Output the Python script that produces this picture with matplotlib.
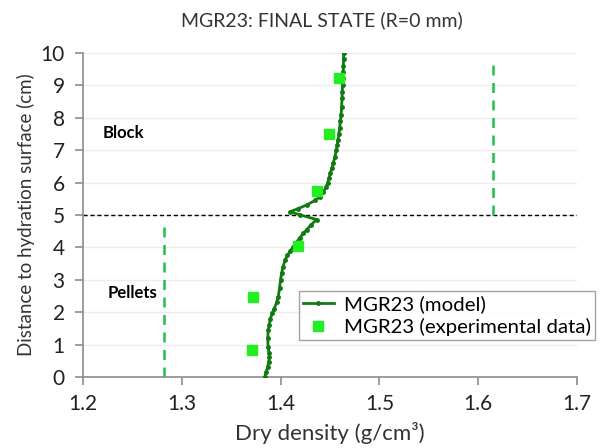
import numpy as np
import matplotlib.pyplot as plt

plt.rcParams.update({
    "font.family": ["Lato", "DejaVu Sans"],
    "font.size": 12,
})

# model curve (dry density vs distance)
model_depth = [10.0, 9.8, 9.6, 9.4, 9.24, 9.0, 8.8, 8.6, 8.34, 8.1, 7.9, 7.7, 7.5, 7.31, 7.15,
               7.0, 6.8, 6.6, 6.45, 6.3, 6.15, 5.98, 5.85, 5.7, 5.57, 5.45, 5.31, 5.2, 5.1,
               5.0, 4.86, 4.7, 4.55, 4.43, 4.3, 4.15, 4.02, 3.9, 3.75, 3.61, 3.4, 3.2,
               3.0, 2.75, 2.48, 2.3, 2.1, 1.97, 1.8, 1.6, 1.45, 1.2, 0.94, 0.75, 0.63, 0.45,
               0.3, 0.15, 0.0]
model_density = [1.4639, 1.4637, 1.4635, 1.4632, 1.4630, 1.4627, 1.4624, 1.4621, 1.4618,
                 1.4612, 1.4605, 1.4598, 1.4590, 1.4580, 1.4572, 1.4563, 1.4550, 1.4533,
                 1.4520, 1.4505, 1.4490, 1.4475, 1.4458, 1.4430, 1.4400, 1.4350, 1.4264,
                 1.4180, 1.4095, 1.4200, 1.4365, 1.4310, 1.4265, 1.4230, 1.4195, 1.4160,
                 1.4130, 1.4100, 1.4070, 1.4045, 1.4025, 1.4010, 1.4000, 1.3990, 1.3977,
                 1.3960, 1.3935, 1.3915, 1.3898, 1.3885, 1.3876, 1.3870, 1.3874, 1.3882,
                 1.3888, 1.3880, 1.3868, 1.3855, 1.3840]

# experimental points
exp_depth = [9.24, 7.49, 5.74, 4.04, 2.46, 0.83]
exp_density = [1.4588, 1.4489, 1.4365, 1.4180, 1.3724, 1.3707]

# initial dry densities of each zone
pellets_density = 1.282
block_density = 1.615
interface = 5.0

fig = plt.figure(figsize=(6, 4.48), dpi=100)
ax = fig.add_axes([0.138, 0.1585, 0.824, 0.7232])

ax.set_xlim(1.2, 1.7)
ax.set_ylim(0, 10)
ax.set_xticks(np.arange(1.2, 1.71, 0.1))
ax.set_xticklabels(["1.2", "1.3", "1.4", "1.5", "1.6", "1.7"])
ax.set_yticks(range(11))
ax.grid(axis="y", color="#ededed", linewidth=1)
ax.set_axisbelow(True)

for s in ["top", "right"]:
    ax.spines[s].set_visible(False)
for s in ["left", "bottom"]:
    ax.spines[s].set_color("#8c8c8c")
    ax.spines[s].set_linewidth(1.2)
ax.tick_params(colors="#8c8c8c", labelcolor="#222222", labelsize=15, length=6, width=1.2)
ax.tick_params(axis="x", pad=6)
ax.tick_params(axis="y", pad=7)

ax.axhline(interface, color="black", linestyle=(0, (3, 2)), linewidth=1)
ax.plot([pellets_density, pellets_density], [0, interface - 0.15], color="#1fbf4f",
        linestyle=(0, (4, 3)), linewidth=1.8)
ax.plot([block_density, block_density], [interface, 9.85], color="#1fbf4f",
        linestyle=(0, (4, 3)), linewidth=1.8)

ax.plot(model_density, model_depth, color="#127a12", linewidth=2, marker="o", markersize=2.5,
        label="MGR23 (model)", zorder=3)
ax.plot(exp_density, exp_depth, linestyle="none", marker="s", markersize=7, color="#22ee22",
        label="MGR23 (experimental data)", zorder=4)

ax.text(1.2202, 7.54, "Block", fontsize=12, fontweight="bold", va="center")
ax.text(1.2253, 2.59, "Pellets", fontsize=12, fontweight="bold", va="center")

ax.set_title("MGR23: FINAL STATE (R=0 mm)", fontsize=14, color="#333333", pad=19, x=0.484)
ax.set_xlabel("Dry density (g/cm\u00b3)", fontsize=16, color="#333333", labelpad=6)
ax.set_ylabel("Distance to hydration surface (cm)", fontsize=13.5, color="#333333", labelpad=4)

leg = ax.legend(loc="upper left", bbox_to_anchor=(299 / 600, 1 - 291 / 448),
                bbox_transform=fig.transFigure, fontsize=14.7, frameon=True, fancybox=False,
                borderpad=0.2, labelspacing=0.25, handlelength=1.5, handletextpad=0.5,
                borderaxespad=0)
leg.get_frame().set_edgecolor("#8c8c8c")
leg.get_frame().set_linewidth(1)

fig.savefig("out.png", dpi=100)
